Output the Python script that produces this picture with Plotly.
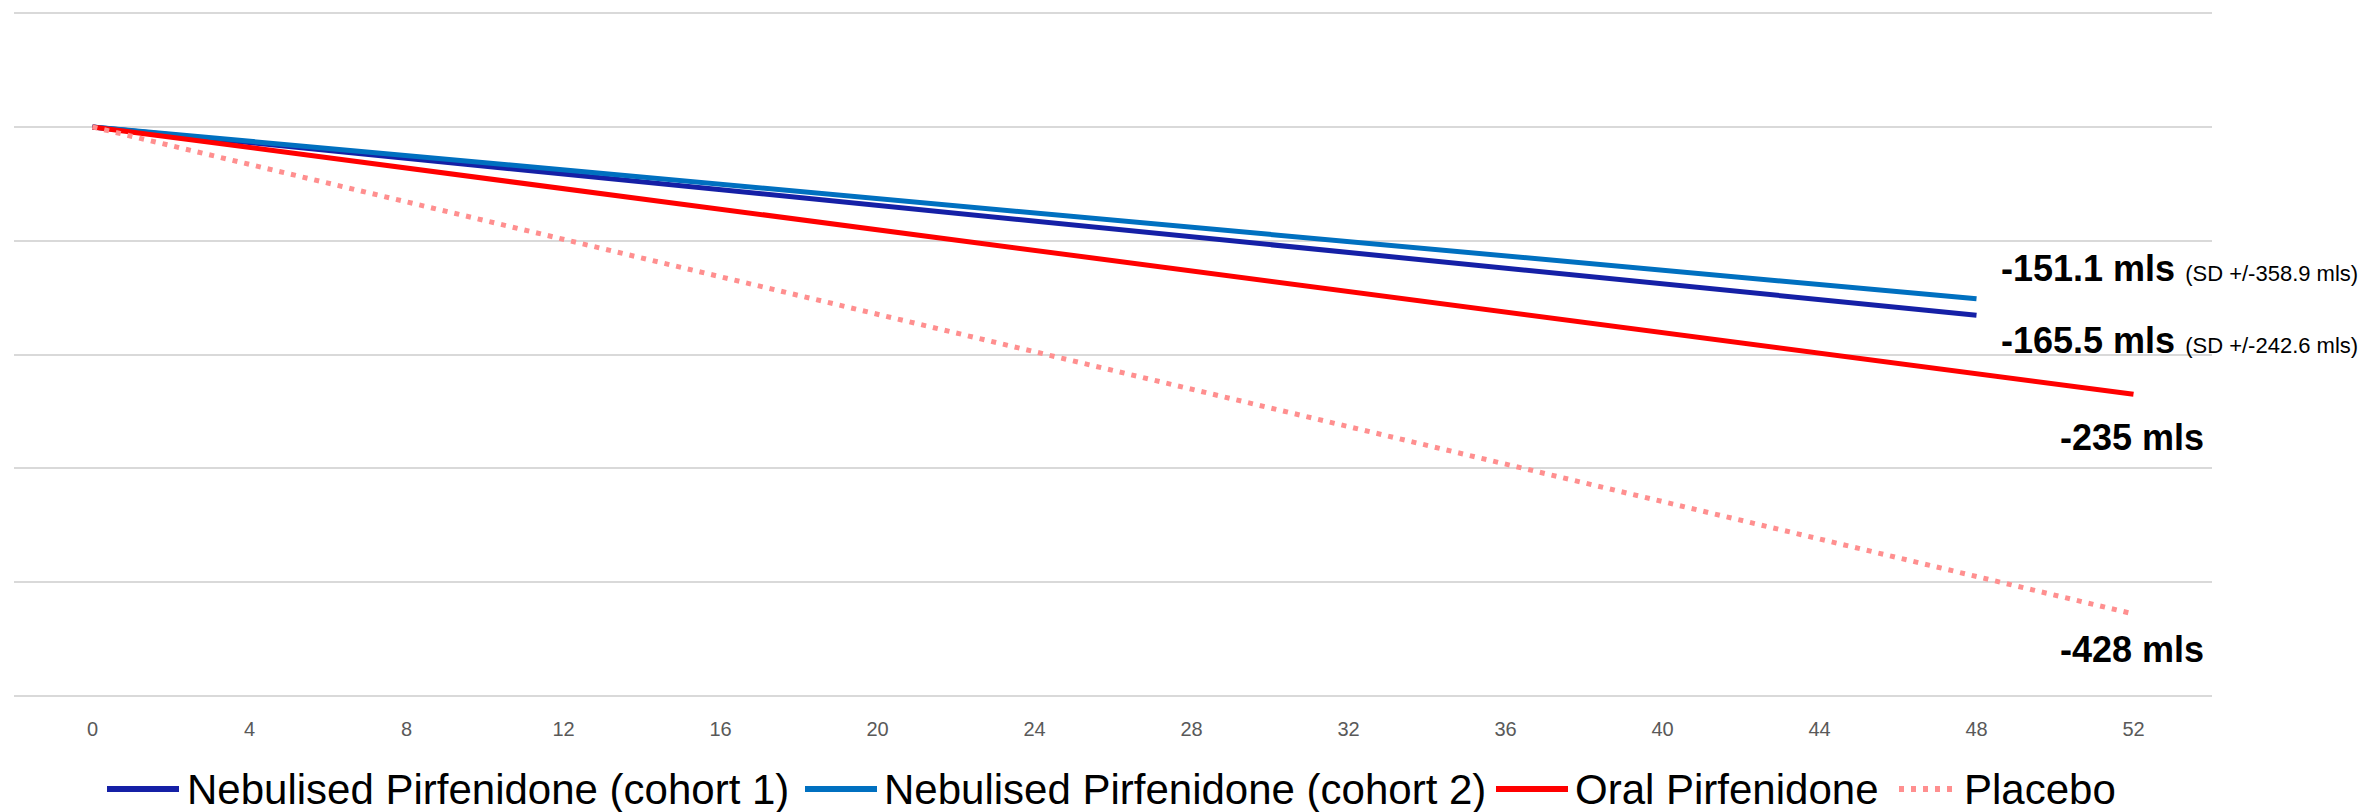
import plotly.graph_objects as go

# FVC change from baseline (mls) by week
weeks_cohort = [0, 48]
weeks_full = [0, 52]
cohort1 = [0, -165.5]
cohort2 = [0, -151.1]
oral = [0, -235]
placebo = [0, -428]

cohort1_sd = 242.6
cohort2_sd = 358.9

tick_vals = list(range(0, 53, 4))

names = ["Nebulised Pirfenidone (cohort 1)", "Nebulised Pirfenidone (cohort 2)",
         "Oral Pirfenidone", "Placebo"]
colors = ["#1520A6", "#0070C0", "#FF0000", "#FF8F8F"]
dashes = ["solid", "solid", "solid", "5px,7px"]

W, H = 2359, 812
ML, MR, MT, MB = 14, 147, 12, 115
FONT = "Liberation Sans, Arial, sans-serif"

fig = go.Figure()
series = [(weeks_cohort, cohort1), (weeks_cohort, cohort2),
          (weeks_full, oral), (weeks_full, placebo)]
for (xs, ys), name, col, dash in zip(series, names, colors, dashes):
    fig.add_trace(go.Scatter(x=xs, y=ys, mode="lines", name=name,
                             line=dict(color=col, width=5, dash=dash),
                             showlegend=False))

def fmt(v):
    return f"{v:g}"

big = dict(family=FONT, size=36, color="black")
annots = [
    dict(x=weeks_cohort[-1], y=cohort2[-1], xanchor="left", xshift=22, yshift=30,
         text=f"<b>{fmt(cohort2[-1])} mls</b> <span style='font-size:22px'>(SD +/-{cohort2_sd} mls)</span>"),
    dict(x=weeks_cohort[-1], y=cohort1[-1], xanchor="left", xshift=22, yshift=-25,
         text=f"<b>{fmt(cohort1[-1])} mls</b> <span style='font-size:22px'>(SD +/-{cohort1_sd} mls)</span>"),
    dict(x=weeks_full[-1], y=oral[-1], xanchor="right", xshift=72, yshift=-43,
         text=f"<b>{fmt(oral[-1])} mls</b>"),
    dict(x=weeks_full[-1], y=placebo[-1], xanchor="right", xshift=72, yshift=-36,
         text=f"<b>{fmt(placebo[-1])} mls</b>"),
]
for a in annots:
    fig.add_annotation(xref="x", yref="y", showarrow=False, font=big, **a)

# Legend row along the bottom: swatch line + label for each series
plot_w = W - ML - MR
plot_h = H - MT - MB

def px_x(p):
    return (p - ML) / plot_w

def px_y(p):
    return (H - MB - p) / plot_h

legend_y = 789
swatch_x = [(107, 179), (805, 877), (1496, 1568), (1899, 1956)]
label_x = [185, 882, 1573, 1962]
for (x0, x1), lx, name, col, dash in zip(swatch_x, label_x, names, colors, dashes):
    fig.add_shape(type="line", xref="paper", yref="paper",
                  x0=px_x(x0), x1=px_x(x1), y0=px_y(legend_y), y1=px_y(legend_y),
                  line=dict(color=col, width=6, dash=dash))
    fig.add_annotation(xref="paper", yref="paper", x=px_x(lx), y=px_y(legend_y),
                       xanchor="left", yanchor="middle", showarrow=False,
                       text=name, font=dict(family=FONT, size=42, color="black"))

fig.update_layout(
    width=W, height=H,
    margin=dict(l=ML, r=MR, t=MT, b=MB),
    plot_bgcolor="white", paper_bgcolor="white",
    font=dict(family=FONT),
    showlegend=False,
    xaxis=dict(range=[-2, 54], tickvals=tick_vals, showgrid=False, zeroline=False,
               showline=False, ticks="", ticklabelstandoff=18,
               tickfont=dict(family=FONT, size=20, color="#595959")),
    yaxis=dict(range=[-501, 101], tickvals=list(range(-500, 101, 100)),
               showticklabels=False, showgrid=True,
               gridcolor="#D9D9D9", gridwidth=2, zeroline=False, showline=False),
)

fig.write_html("out.html")
